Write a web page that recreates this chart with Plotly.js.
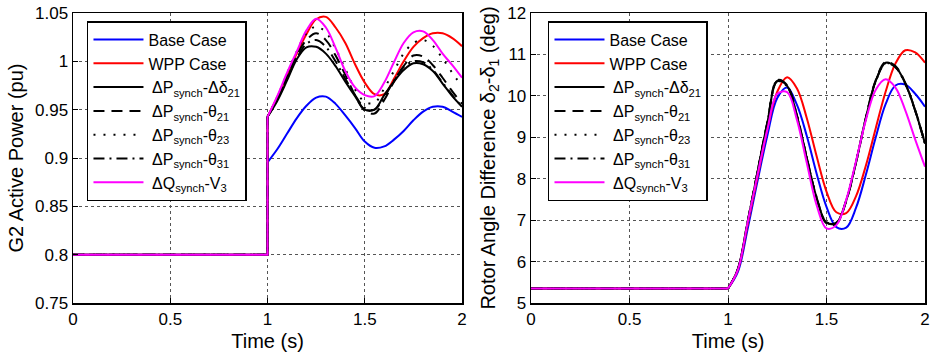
<!DOCTYPE html>
<html>
<head>
<meta charset="utf-8">
<script src="https://cdn.plot.ly/plotly-3.0.1.min.js"></script>
<style>
  html, body { margin: 0; padding: 0; background: #fff; }
  #chart { width: 934px; height: 355px; }
</style>
</head>
<body>
<div id="chart"></div>
<script>
// ---------------- DATA ----------------
const seriesNames = [
  "Base Case",
  "WPP Case",
  " ΔP<sub>synch</sub>-Δδ<sub>21</sub>",
  " ΔP<sub>synch</sub>-θ<sub>21</sub>",
  " ΔP<sub>synch</sub>-θ<sub>23</sub>",
  " ΔP<sub>synch</sub>-θ<sub>31</sub>",
  " ΔQ<sub>synch</sub>-V<sub>3</sub>"
];
const xTicks = [0, 0.5, 1, 1.5, 2];

// pre-disturbance time (s)
const tPre = [0, 1];
// post-disturbance time (s)
const tPost = [1.00, 1.05, 1.10, 1.15, 1.20, 1.25, 1.30, 1.35, 1.40, 1.45, 1.50,
               1.55, 1.60, 1.65, 1.70, 1.75, 1.80, 1.85, 1.90, 1.95, 2.00];

// ---- Left: G2 active power (pu) ----
const p2Pre = 0.8;
const p2Base   = [0.8955, 0.909, 0.925, 0.941, 0.954, 0.9625, 0.9635, 0.956, 0.944, 0.931, 0.917,
                  0.9105, 0.912, 0.919, 0.928, 0.939, 0.948, 0.953, 0.953, 0.948, 0.9425];
const p2Wpp    = [0.9426, 0.963, 0.985, 1.008, 1.028, 1.0435, 1.046, 1.035, 1.019, 0.997, 0.978,
                  0.966, 0.966, 0.982, 1.000, 1.015, 1.024, 1.029, 1.029, 1.024, 1.0157];
const p2Dd21   = [0.9426, 0.959, 0.980, 1.002, 1.0145, 1.015, 1.008, 0.995, 0.979, 0.964, 0.950,
                  0.950, 0.965, 0.979, 0.991, 0.998, 0.997, 0.990, 0.977, 0.964, 0.953];
const p2Th21   = [0.9426, 0.961, 0.984, 1.006, 1.022, 1.029, 1.022, 1.006, 0.986, 0.965, 0.949,
                  0.946, 0.960, 0.979, 0.995, 1.006, 1.005, 0.996, 0.983, 0.969, 0.956];
const p2Th23   = [0.9426, 0.963, 0.987, 1.010, 1.029, 1.036, 1.030, 1.013, 0.992, 0.971, 0.958,
                  0.957, 0.972, 0.990, 1.008, 1.019, 1.022, 1.016, 1.003, 0.988, 0.974];
const p2Th31   = [0.9426, 0.960, 0.982, 1.003, 1.018, 1.022, 1.015, 1.000, 0.982, 0.965, 0.952,
                  0.950, 0.963, 0.980, 0.994, 1.000, 0.999, 0.991, 0.978, 0.965, 0.953];
const p2QV3    = [0.9426, 0.964, 0.988, 1.010, 1.032, 1.044, 1.035, 1.014, 0.990, 0.973, 0.965,
                  0.964, 0.978, 0.999, 1.019, 1.030, 1.031, 1.022, 1.008, 0.996, 0.983];

// ---- Right: rotor angle difference (deg) ----
const dPre = 5.35;
const dBase = [5.35, 5.75, 6.80, 7.95, 9.05, 9.95, 10.20, 9.78, 9.03, 8.12, 7.32,
               6.83, 6.82, 7.30, 8.10, 9.00, 9.80, 10.25, 10.27, 10.05, 9.74];
const dWpp  = [5.35, 5.80, 6.90, 8.05, 9.20, 10.10, 10.45, 10.18, 9.46, 8.54, 7.69,
               7.19, 7.17, 7.58, 8.32, 9.22, 10.10, 10.78, 11.10, 11.05, 10.80];
const dDd21 = [5.35, 5.82, 6.97, 8.17, 9.36, 10.36, 10.24, 9.51, 8.50, 7.54, 6.94,
               6.93, 7.47, 8.40, 9.47, 10.36, 10.80, 10.70, 10.30, 9.65, 8.85];
const dTh21 = [5.35, 5.82, 6.98, 8.18, 9.37, 10.38, 10.26, 9.53, 8.51, 7.53, 6.92,
               6.91, 7.46, 8.40, 9.48, 10.38, 10.82, 10.72, 10.31, 9.66, 8.86];
const dTh23 = [5.35, 5.82, 6.97, 8.17, 9.36, 10.37, 10.25, 9.52, 8.51, 7.55, 6.95,
               6.94, 7.48, 8.41, 9.47, 10.36, 10.79, 10.69, 10.29, 9.64, 8.85];
const dTh31 = [5.35, 5.82, 6.96, 8.16, 9.35, 10.35, 10.23, 9.50, 8.49, 7.54, 6.95,
               6.94, 7.47, 8.39, 9.46, 10.35, 10.79, 10.69, 10.29, 9.64, 8.84];
const dQV3  = [5.35, 5.80, 6.95, 8.10, 9.20, 10.05, 10.09, 9.42, 8.38, 7.36, 6.80,
               6.88, 7.49, 8.43, 9.42, 10.15, 10.40, 10.20, 9.65, 8.95, 8.29];

// ---------------- STYLE ----------------
const styles = [
  {color: "#0000ff", dash: "solid"},
  {color: "#ff0000", dash: "solid"},
  {color: "#000000", dash: "solid"},
  {color: "#000000", dash: "11px,7px"},
  {color: "#000000", dash: "2px,8px"},
  {color: "#000000", dash: "11px,5px,2px,5px"},
  {color: "#ff00ff", dash: "solid"}
];
const FONT = "Liberation Sans, Arial, sans-serif";

const leftSeries  = [p2Base, p2Wpp, p2Dd21, p2Th21, p2Th23, p2Th31, p2QV3];
const rightSeries = [dBase, dWpp, dDd21, dTh21, dTh23, dTh31, dQV3];

const traces = [];
function addSet(series, preVal, xa, ya, leg, jump) {
  series.forEach((ys, i) => {
    const st = styles[i];
    const lw = 2;
    const preX = jump ? tPre.concat([tPost[0]]) : tPre.slice();
    const preY = jump ? [preVal, preVal, ys[0]] : [preVal, preVal];
    traces.push({
      x: preX, y: preY, xaxis: xa, yaxis: ya, mode: "lines",
      line: {color: st.color, width: lw, dash: st.dash},
      showlegend: false, hoverinfo: "skip", legendgroup: leg + i
    });
    traces.push({
      x: tPost, y: ys, xaxis: xa, yaxis: ya, mode: "lines",
      name: seriesNames[i], legend: leg, legendgroup: leg + i,
      line: {color: st.color, width: lw, dash: st.dash, shape: "spline", smoothing: 1}
    });
  });
}
addSet(leftSeries, p2Pre, "x", "y", "legend", true);
addSet(rightSeries, dPre, "x2", "y2", "legend2", false);

const axBase = {
  showline: true, linecolor: "#000", linewidth: 1.5, mirror: true,
  ticks: "inside", ticklen: 5, tickcolor: "#000", tickwidth: 1,
  showgrid: true, gridcolor: "#555", gridwidth: 1, griddash: "dot",
  zeroline: false, tickfont: {family: FONT, size: 17, color: "#000"},
  automargin: false
};

const legBase = {
  xanchor: "left", yanchor: "top",
  bgcolor: "#fff", bordercolor: "#000", borderwidth: 1.5,
  font: {family: FONT, size: 16, color: "#000"}, itemwidth: 50, tracegroupgap: 0
};

const layout = {
  width: 934, height: 355,
  margin: {l: 73, r: 9, t: 13, b: 52},
  paper_bgcolor: "#fff", plot_bgcolor: "#fff",
  font: {family: FONT, color: "#000"},
  xaxis: Object.assign({}, axBase, {
    domain: [0, 0.4566], range: [0, 2], tickvals: xTicks,
    title: {text: "Time (s)", font: {family: FONT, size: 20}, standoff: 6}
  }),
  yaxis: Object.assign({}, axBase, {
    range: [0.75, 1.05], dtick: 0.05, tick0: 0.75,
    title: {text: "G2 Active Power (pu)", font: {family: FONT, size: 20}, standoff: 6}
  }),
  xaxis2: Object.assign({}, axBase, {
    domain: [0.5376, 1], range: [0, 2], tickvals: xTicks, anchor: "y2",
    title: {text: "Time (s)", font: {family: FONT, size: 20}, standoff: 6}
  }),
  yaxis2: Object.assign({}, axBase, {
    range: [5, 12], dtick: 1, tick0: 5, anchor: "x2",
    title: {text: "Rotor Angle Difference δ<sub>2</sub>-δ<sub>1</sub> (deg)", font: {family: FONT, size: 20}, standoff: 6}
  }),
  legend: Object.assign({}, legBase, {x: 0.0164, y: 0.972}),
  legend2: Object.assign({}, legBase, {x: 0.5575, y: 0.972}),
  showlegend: true
};

Plotly.newPlot("chart", traces, layout, {displayModeBar: false, staticPlot: true});
</script>
</body>
</html>
